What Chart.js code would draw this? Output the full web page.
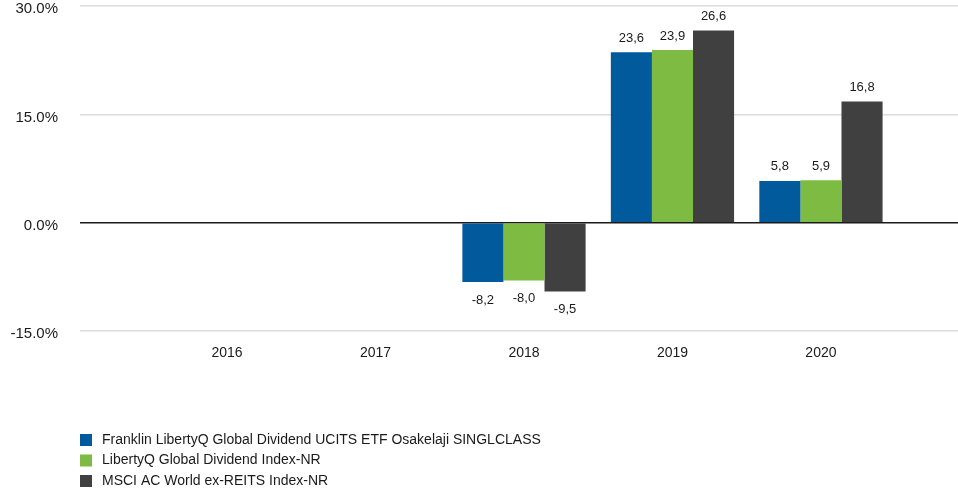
<!DOCTYPE html>
<html>
<head>
<meta charset="utf-8">
<script src="https://cdn.jsdelivr.net/npm/chart.js@4/dist/chart.umd.min.js"></script>
<style>
  html, body { margin: 0; padding: 0; background: #fff; }
  #wrap { width: 958px; height: 494px; }
</style>
</head>
<body>
<div id="wrap"><canvas id="perfChart" width="958" height="494"></canvas></div>
<script>
var years = [2016, 2017, 2018, 2019, 2020];
var fundValues = [null, null, -8.2, 23.6, 5.8];
var indexValues = [null, null, -8.0, 23.9, 5.9];
var msciValues = [null, null, -9.5, 26.6, 16.8];
var seriesNames = [
  "Franklin LibertyQ Global Dividend UCITS ETF Osakelaji SINGLCLASS",
  "LibertyQ Global Dividend Index-NR",
  "MSCI AC World ex-REITS Index-NR"
];
var seriesColors = ["#005A9C", "#7DBB42", "#404040"];
var yTicks = [-15, 0, 15, 30];

function toPoints(vals) {
  return years.map(function (y, i) { return { x: y, y: vals[i] }; });
}

// value labels on top / under each bar
var valueLabels = {
  id: 'valueLabels',
  afterDatasetsDraw: function (chart) {
    var ctx = chart.ctx;
    ctx.save();
    ctx.font = '13px "Liberation Sans", Arial, sans-serif';
    ctx.fillStyle = '#1a1a1a';
    ctx.textAlign = 'center';
    ctx.textBaseline = 'middle';
    chart.data.datasets.forEach(function (ds, di) {
      var meta = chart.getDatasetMeta(di);
      meta.data.forEach(function (bar, i) {
        var v = ds.data[i].y;
        if (v === null) return;
        var txt = v.toFixed(1).replace('.', ',');
        var y = v >= 0 ? bar.y - 14 : bar.y + 18;
        ctx.fillText(txt, bar.x, y);
      });
    });
    ctx.restore();
  }
};

// vertical legend under the chart
var sideLegend = {
  id: 'sideLegend',
  afterDraw: function (chart) {
    var ctx = chart.ctx;
    ctx.save();
    ctx.font = '14px "Liberation Sans", Arial, sans-serif';
    ctx.textBaseline = 'middle';
    ctx.textAlign = 'left';
    chart.data.datasets.forEach(function (ds, i) {
      var cy = 440 + i * 20.5;
      ctx.fillStyle = ds.backgroundColor;
      ctx.fillRect(80, cy - 6, 12, 12);
      ctx.fillStyle = '#1a1a1a';
      ctx.fillText(ds.label, 102, cy);
    });
    ctx.restore();
  }
};

new Chart(document.getElementById('perfChart').getContext('2d'), {
  type: 'bar',
  data: {
    datasets: [
      { label: seriesNames[0], data: toPoints(fundValues), backgroundColor: seriesColors[0] },
      { label: seriesNames[1], data: toPoints(indexValues), backgroundColor: seriesColors[1] },
      { label: seriesNames[2], data: toPoints(msciValues), backgroundColor: seriesColors[2] }
    ]
  },
  options: {
    responsive: false,
    animation: false,
    categoryPercentage: 0.83,
    barPercentage: 1,
    layout: { padding: { left: 0, right: 0, top: 0, bottom: 118 } },
    plugins: {
      legend: { display: false },
      tooltip: { enabled: false }
    },
    scales: {
      x: {
        type: 'linear',
        offset: false,
        min: 2015.01,
        max: 2020.923,
        grid: { display: false, drawTicks: false },
        border: { display: false },
        ticks: {
          stepSize: 1,
          includeBounds: false,
          autoSkip: false,
          maxRotation: 0,
          padding: 14,
          color: '#1a1a1a',
          font: { family: '"Liberation Sans", Arial, sans-serif', size: 14 },
          callback: function (v) { return years.indexOf(v) >= 0 ? String(v) : ''; }
        }
      },
      y: {
        min: yTicks[0],
        max: yTicks[yTicks.length - 1],
        afterFit: function (s) { s.width = 80; },
        afterBuildTicks: function (s) { s.ticks = yTicks.map(function (v) { return { value: v }; }); },
        border: { display: false },
        grid: {
          drawTicks: true,
          tickLength: 22,
          tickColor: 'rgba(0,0,0,0)',
          lineWidth: 1.5,
          color: function (c) { return c.tick && c.tick.value === 0 ? '#1a1a1a' : '#dcdcdc'; }
        },
        ticks: {
          padding: 0,
          labelOffset: 3,
          color: '#1a1a1a',
          font: { family: '"Liberation Sans", Arial, sans-serif', size: 15, lineHeight: 0.8 },
          callback: function (v) { return v.toFixed(1) + '%'; }
        }
      }
    }
  },
  plugins: [valueLabels, sideLegend]
});
</script>
</body>
</html>
